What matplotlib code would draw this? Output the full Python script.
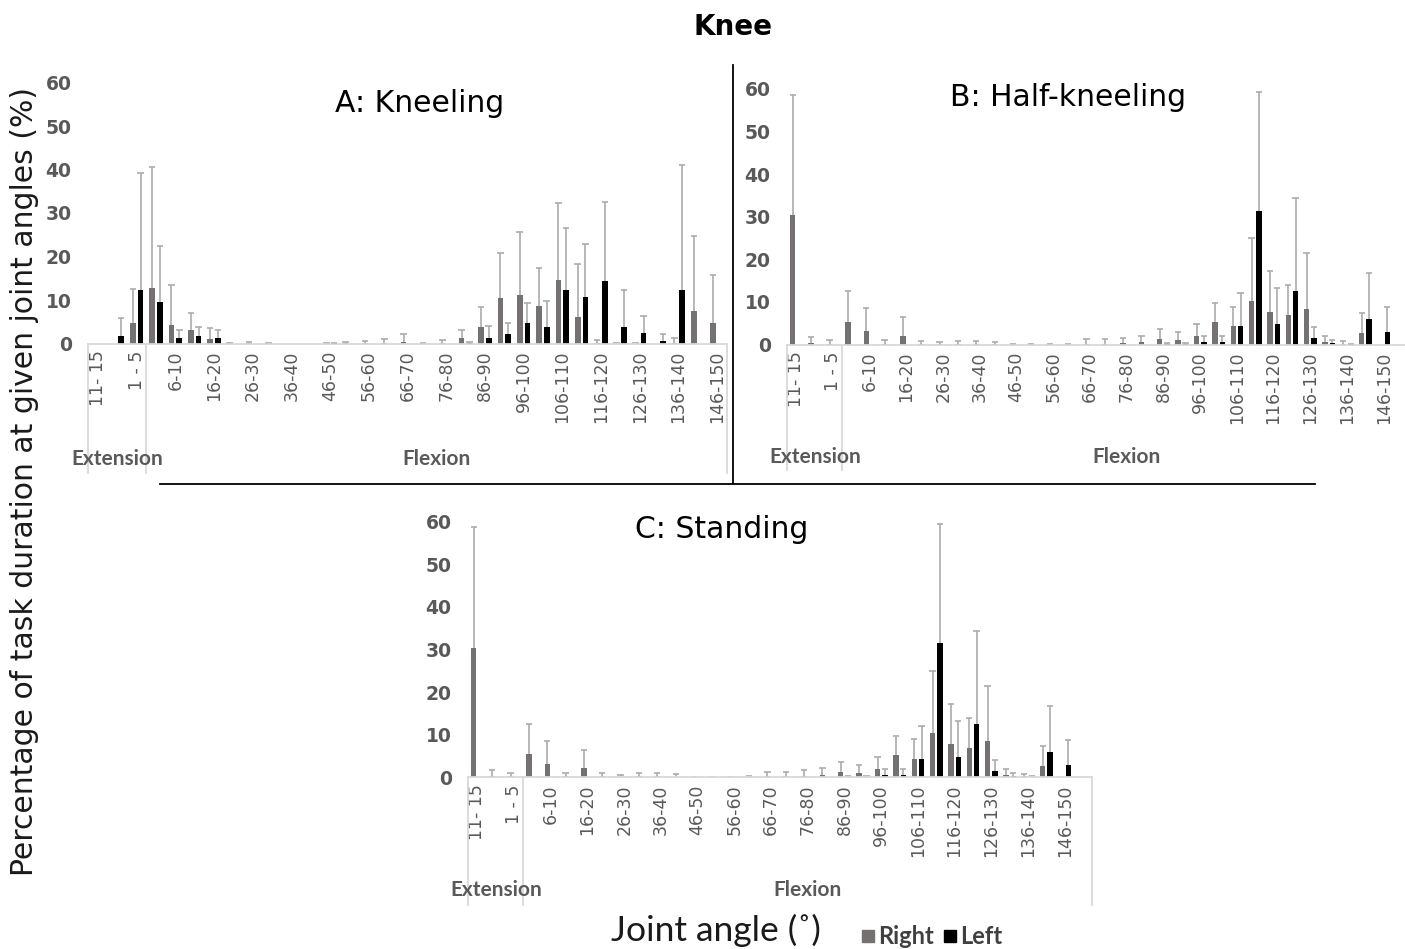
import numpy as np
from matplotlib import pyplot as plt
from matplotlib.transforms import blended_transform_factory
from matplotlib.patches import Rectangle

#%%
"DATA: mean % of task duration per joint-angle bin (Right = grey, Left = black), upper SD"
ext_labels = ['11- 15', '6- 10', '1 - 5']
flex_labels = ['1-5', '6-10', '11-15', '16-20', '21-25', '26-30', '31-35', '36-40',
               '41-45', '46-50', '51-55', '56-60', '61-65', '66-70', '71-75', '76-80',
               '81-85', '86-90', '91-95', '96-100', '101-105', '106-110', '111-115',
               '116-120', '121-125', '126-130', '131-135', '136-140', '141-145', '146-150']
cat_labels = ext_labels + flex_labels

"A: Kneeling"
kneel_right = [0, 0, 4.6, 12.7, 4.3, 3.0, 1.1, 0.1, 0.1, 0.1, 0, 0, 0.1, 0.1, 0.1, 0.2, 0.3,
               0.1, 0.1, 1.3, 3.7, 10.4, 11.1, 8.7, 14.6, 6.1, 0.1, 0, 0, 0, 0.1, 7.4, 4.6]
kneel_right_sd = [0, 0, 8.0, 27.8, 9.1, 4.0, 2.4, 0.1, 0.2, 0.1, 0, 0, 0.1, 0.3, 0.5, 0.9, 1.8,
                  0.1, 0.7, 1.9, 4.6, 10.3, 14.6, 8.7, 17.8, 12.2, 0.7, 0.1, 0.1, 0, 1.1, 17.4, 11.1]
kneel_left = [0, 1.7, 12.4, 9.5, 1.3, 1.7, 1.3, 0, 0, 0, 0, 0, 0.1, 0, 0, 0, 0,
              0, 0, 0.1, 1.3, 2.2, 4.6, 3.9, 12.3, 10.7, 14.4, 3.9, 2.5, 0.5, 12.4, 0, 0]
kneel_left_sd = [0, 4.2, 26.7, 12.9, 1.9, 2.1, 1.8, 0, 0, 0, 0, 0, 0.1, 0, 0, 0, 0,
                 0, 0, 0.3, 2.8, 2.4, 4.8, 5.9, 14.3, 12.2, 18.2, 8.3, 3.9, 1.7, 28.7, 0, 0]

"B: Half-kneeling"
half_right = [30.4, 0.3, 0.2, 5.4, 3.1, 0.2, 2.1, 0.2, 0.1, 0.2, 0.2, 0.1, 0.05, 0.05, 0.05, 0.1, 0.2,
              0.2, 0.3, 0.5, 1.2, 1.0, 2.0, 5.2, 4.3, 10.3, 7.7, 6.9, 8.4, 0.6, 0.2, 2.6, 0]
half_right_sd = [28.2, 1.4, 0.9, 7.2, 5.4, 0.9, 4.4, 0.7, 0.5, 0.7, 0.7, 0.6, 0.05, 0.05, 0.05, 0.1, 1.1,
                 1.1, 1.3, 1.6, 2.5, 2.0, 2.7, 4.5, 4.6, 14.7, 9.6, 7.1, 13.0, 1.4, 0.6, 4.8, 0]
half_left = [0, 0, 0, 0, 0, 0, 0, 0, 0, 0, 0, 0, 0, 0, 0, 0, 0,
             0, 0, 0, 0.1, 0.1, 0.6, 0.6, 4.3, 31.4, 4.7, 12.5, 1.5, 0.3, 0.1, 5.9, 3.0]
half_left_sd = [0, 0, 0, 0, 0, 0, 0, 0, 0, 0, 0, 0, 0, 0, 0, 0, 0,
                0, 0, 0, 0.3, 0.3, 1.4, 1.4, 7.8, 28.0, 8.5, 21.8, 2.6, 0.8, 0.1, 10.8, 5.7]

"C: Standing"
stand_right = [30.4, 0.3, 0.2, 5.4, 3.1, 0.2, 2.1, 0.2, 0.1, 0.2, 0.2, 0.1, 0.05, 0.05, 0.05, 0.1, 0.2,
               0.2, 0.3, 0.5, 1.2, 1.0, 2.0, 5.2, 4.3, 10.3, 7.7, 6.9, 8.4, 0.6, 0.2, 2.6, 0]
stand_right_sd = [28.2, 1.4, 0.9, 7.2, 5.4, 0.9, 4.4, 0.7, 0.5, 0.7, 0.7, 0.6, 0.05, 0.05, 0.05, 0.1, 1.1,
                  1.1, 1.3, 1.6, 2.5, 2.0, 2.7, 4.5, 4.6, 14.7, 9.6, 7.1, 13.0, 1.4, 0.6, 4.8, 0]
stand_left = [0, 0, 0, 0, 0, 0, 0, 0, 0, 0, 0, 0, 0, 0, 0, 0, 0,
              0, 0, 0, 0.1, 0.1, 0.6, 0.6, 4.3, 31.4, 4.7, 12.5, 1.5, 0.3, 0.1, 5.9, 3.0]
stand_left_sd = [0, 0, 0, 0, 0, 0, 0, 0, 0, 0, 0, 0, 0, 0, 0, 0, 0,
                 0, 0, 0, 0.3, 0.3, 1.4, 1.4, 7.8, 28.0, 8.5, 21.8, 2.6, 0.8, 0.1, 10.8, 5.7]

#%%
"STYLE"
GRAY = '#767171'
ERR = '#ababab'
BOX = '#d9d9d9'
TXT = '#595959'
NARROW = ['Lato', 'DejaVu Sans']

W, H = 1405, 949
fig = plt.figure(figsize=(W/100, H/100), dpi=100)


def px_axes(x0, x1, ytop, ybot):
    "axes placed with pixel coords (origin top-left)"
    return fig.add_axes([x0/W, 1-ybot/H, (x1-x0)/W, (ybot-ytop)/H])


def draw_panel(ax, right, right_sd, left, left_sd, ncat, box_bot, group_y):
    n = len(right)
    x = np.arange(n)
    right = np.array(right); left = np.array(left)
    right_sd = np.array(right_sd); left_sd = np.array(left_sd)
    ax.bar(x+0.30, right, width=0.29, color=GRAY, zorder=2)
    ax.bar(x+0.70, left, width=0.29, color='black', zorder=2)
    for xs, v, sd in ((x+0.30, right, right_sd), (x+0.70, left, left_sd)):
        m = sd > 0
        ax.vlines(xs[m], v[m], v[m]+sd[m], color=ERR, lw=1.2, zorder=1)
        ax.hlines(v[m]+sd[m], xs[m]-0.17, xs[m]+0.17, color=ERR, lw=1.2, zorder=1)

    ax.set_xlim(0, ncat)
    ax.set_ylim(0, 60)
    ax.set_yticks(np.arange(0, 61, 10))
    ax.set_yticklabels([str(v) for v in range(0, 61, 10)], fontweight='bold')
    ax.set_xticks(np.arange(0, n, 2)+0.5)
    ax.set_xticklabels(cat_labels[::2], rotation=90)
    ax.tick_params(axis='x', length=0, pad=5, labelsize=12.5, labelcolor=TXT)
    ax.tick_params(axis='y', length=0, pad=12, labelsize=13.5, labelcolor=TXT)
    for s in ('left', 'top', 'right'):
        ax.spines[s].set_visible(False)
    ax.spines['bottom'].set_color(BOX)
    ax.spines['bottom'].set_linewidth(1.3)
    ax.patch.set_alpha(0)

    "multi-level category boxes"
    tr = blended_transform_factory(ax.transData, fig.transFigure)
    y_axis = ax.get_position().y0
    for xb in (0, 3, ncat):
        ax.plot([xb, xb], [y_axis, 1-box_bot/H], transform=tr, color=BOX, lw=1.3, clip_on=False)
    ax.text(1.5, 1-group_y/H, 'Extension', transform=tr, ha='center', va='center',
            fontsize=15, fontweight='bold', color=TXT, family=NARROW)
    ax.text((3+ncat)/2, 1-group_y/H, 'Flexion', transform=tr, ha='center', va='center',
            fontsize=15, fontweight='bold', color=TXT, family=NARROW)


axA = px_axes(88.3, 726.7, 82.5, 343.5)
draw_panel(axA, kneel_right, kneel_right_sd, kneel_left, kneel_left_sd, 33, 473, 459)
axB = px_axes(787.3, 787.3+34*18.35, 89, 344.5)
draw_panel(axB, half_right, half_right_sd, half_left, half_left_sd, 34, 470, 457)
axC = px_axes(468.3, 468.3+34*18.35, 521.5, 777.3)
draw_panel(axC, stand_right, stand_right_sd, stand_left, stand_left_sd, 34, 905, 890)

"TEXT"
fig.text(733/W, 1-27/H, 'Knee', ha='center', va='center', fontsize=20, fontweight='bold')
fig.text(420/W, 1-103/H, 'A: Kneeling', ha='center', va='center', fontsize=21.5)
fig.text(1068/W, 1-97/H, 'B: Half-kneeling', ha='center', va='center', fontsize=21.5)
fig.text(722/W, 1-530/H, 'C: Standing', ha='center', va='center', fontsize=21.5)
fig.text(25/W, 1-482/H, 'Percentage of task duration at given joint angles (%)',
         rotation=90, ha='center', va='center', fontsize=21.5, color='#1a1a1a')
fig.text(716/W, 1-930/H, 'Joint angle (˚)', ha='center', va='center', fontsize=25.5,
         color='#1a1a1a', family=NARROW)

"LEGEND"
fig.patches.append(Rectangle((862/W, 1-942/H), 12/W, 12/H, transform=fig.transFigure,
                             color=GRAY))
fig.text(878/W, 1-936/H, 'Right', ha='left', va='center', fontsize=17, fontweight='bold',
         color='#404040', family=NARROW)
fig.patches.append(Rectangle((944/W, 1-942/H), 12/W, 12/H, transform=fig.transFigure,
                             color='black'))
fig.text(960/W, 1-936/H, 'Left', ha='left', va='center', fontsize=17, fontweight='bold',
         color='#404040', family=NARROW)

"black separators between panels"
fig.add_artist(plt.Line2D([733/W, 733/W], [1-65/H, 1-483/H], transform=fig.transFigure,
                          color='black', lw=1.3))
fig.add_artist(plt.Line2D([160/W, 1315/W], [1-484/H, 1-484/H], transform=fig.transFigure,
                          color='black', lw=1.3))

fig.savefig('out.png', dpi=100)
